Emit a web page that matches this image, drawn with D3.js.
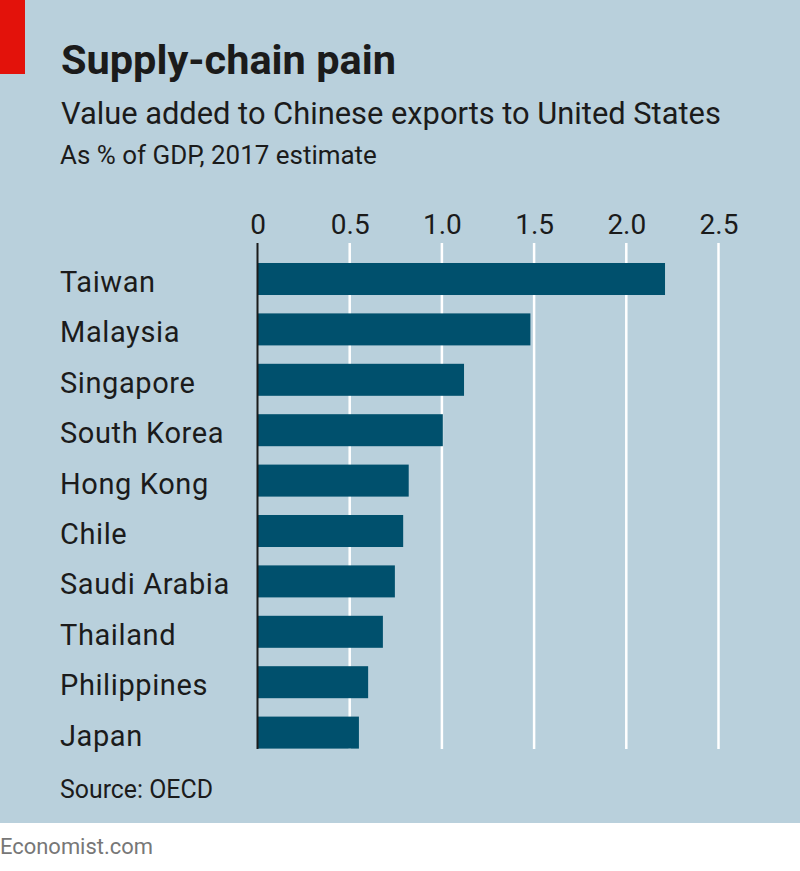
<!DOCTYPE html>
<html><head><meta charset="utf-8">
<script src="https://cdn.jsdelivr.net/npm/d3@7"></script>
<style>html,body{margin:0;padding:0;background:#fff;}svg{display:block;}</style>
</head><body>
<script>
const categories = ["Taiwan","Malaysia","Singapore","South Korea","Hong Kong","Chile","Saudi Arabia","Thailand","Philippines","Japan"];
const values = [2.21, 1.48, 1.12, 1.005, 0.82, 0.79, 0.745, 0.68, 0.60, 0.55];
const tickValues = [0, 0.5, 1.0, 1.5, 2.0, 2.5];
const tickLabels = ["0","0.5","1.0","1.5","2.0","2.5"];
const title = "Supply-chain pain";
const subtitle = "Value added to Chinese exports to United States";
const subsubtitle = "As % of GDP, 2017 estimate";
const source = "Source: OECD";
const footer = "Economist.com";

const W = 800, H = 871;
const font = "Roboto, 'Open Sans', sans-serif";
const ink = "#1b1b1b";
const svg = d3.select("body").append("svg").attr("width", W).attr("height", H);

svg.append("rect").attr("x",0).attr("y",0).attr("width",W).attr("height",823).attr("fill","#b9d0dc");
svg.append("rect").attr("x",0).attr("y",0).attr("width",25).attr("height",74).attr("fill","#e3120b");

function fitText(sel, targetW, startSize){
  sel.attr("font-size", startSize);
  const w = sel.node().getComputedTextLength();
  sel.attr("font-size", startSize * targetW / w);
}

fitText(svg.append("text").attr("x",61).attr("y",74).attr("font-family",font).attr("font-weight",700).attr("fill",ink).text(title), 335, 40);
fitText(svg.append("text").attr("x",61).attr("y",124).attr("font-family",font).attr("fill",ink).text(subtitle), 660, 28);
fitText(svg.append("text").attr("x",60).attr("y",164).attr("font-family",font).attr("fill",ink).text(subsubtitle), 317, 23);

const x = d3.scaleLinear().domain([0, 2.5]).range([257.5, 718.5]);
const y = d3.scaleBand().domain(categories).range([253.8, 757.8]).paddingInner(0.365).paddingOuter(0.1825);

// gridlines
svg.append("g").selectAll("line").data(tickValues.filter(d=>d>0)).join("line")
  .attr("x1", d=>x(d)).attr("x2", d=>x(d)).attr("y1",243).attr("y2",749)
  .attr("stroke","#ffffff").attr("stroke-width",2.5);

// tick labels via axis
const axis = d3.axisTop(x).tickValues(tickValues).tickFormat((d,i)=>tickLabels[i]).tickSize(0).tickPadding(0);
const ag = svg.append("g").attr("transform","translate(0,234)").call(axis);
ag.select(".domain").remove();
ag.selectAll("text").attr("font-family",font).attr("font-size",28).attr("fill",ink).attr("dy",0);

// bars
svg.append("g").selectAll("rect").data(values).join("rect")
  .attr("x", x(0)).attr("y", (d,i)=>y(categories[i]))
  .attr("width", d=>x(d)-x(0)).attr("height", y.bandwidth())
  .attr("fill","#00506d");

// zero line
svg.append("line").attr("x1",x(0)).attr("x2",x(0)).attr("y1",243).attr("y2",749)
  .attr("stroke","#1b1b1b").attr("stroke-width",2);

// category labels
svg.append("g").selectAll("text").data(categories).join("text")
  .attr("x",60).attr("y", d=>y(d)+y.bandwidth()/2+13)
  .attr("font-family",font).attr("font-size",29).attr("letter-spacing",0.6).attr("fill",ink).text(d=>d);

fitText(svg.append("text").attr("x",60).attr("y",798).attr("font-family",font).attr("fill",ink).text(source), 153, 24);
fitText(svg.append("text").attr("x",0).attr("y",854).attr("font-family",font).attr("fill","#777777").text(footer), 153, 21);
</script>
</body></html>
